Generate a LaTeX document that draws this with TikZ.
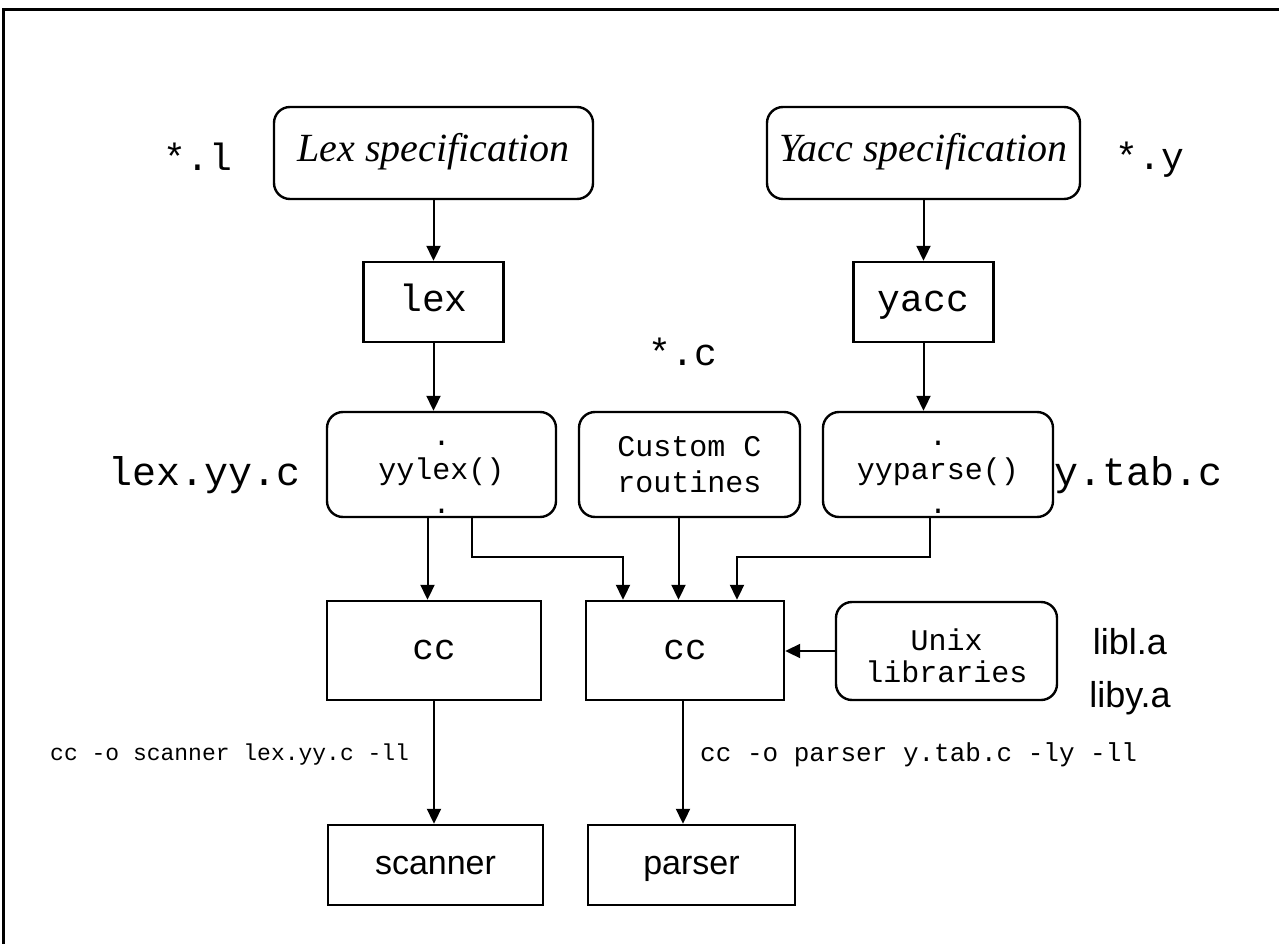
\documentclass[tikz,border=0pt]{standalone}
\usepackage{fontspec}
\setmainfont{Liberation Serif}
\setsansfont{Liberation Sans}
\setmonofont{Liberation Mono}
\usetikzlibrary{arrows.meta,positioning}

\newcommand{\fs}[1]{\fontsize{#1}{1.2\dimexpr#1pt\relax}\selectfont}

\begin{document}
\begin{tikzpicture}[
            x=1pt, y=-1pt,
            rbox/.style={draw, line width=2.4pt, rounded corners=16pt, inner sep=0pt, align=center},
            sbox/.style={draw, line width=2.4pt, inner sep=0pt, align=center},
            oneline/.style={text height=26pt, text depth=8pt},
            tag/.style={inner sep=0pt, font=\ttfamily\fs{38}},
            >={Triangle[length=15pt,width=14pt]},
            conn/.style={line width=2pt}
        ]
        \useasboundingbox (0,0) rectangle (1279,944);
        \draw[line width=3pt] (3,944) -- (3,10) -- (1279,10);

        % specifications
        \node[rbox, oneline, minimum width=319pt, minimum height=92pt, font=\itshape\fs{40}] (lexspec) at (433.5,153) {Lex specification};
        \node[rbox, oneline, minimum width=313pt, minimum height=92pt, font=\itshape\fs{40}] (yaccspec) at (923.5,153) {Yacc specification};
        \node[tag] (lsuf) at (198,157) {*.l};
        \node[tag] (ysuf) at (1150,160) {*.y};

        % generators
        \node[sbox, oneline, minimum width=140pt, minimum height=80pt, font=\ttfamily\fs{38}] (lex) at (433.5,302) {lex};
        \node[sbox, oneline, minimum width=140pt, minimum height=80pt, font=\ttfamily\fs{38}] (yacc) at (923.5,302) {yacc};

        % generated sources
        \node[tag] (csuf) at (683,352) {*.c};
        \node[rbox, minimum width=229pt, minimum height=105pt, font=\ttfamily\fs{30}] (yylex) at (441.5,464.5) {\rule{0pt}{33pt}.\\[-2pt]\strut yylex()\\[-2pt].\rule[-3pt]{0pt}{3pt}};
        \node[rbox, minimum width=221pt, minimum height=105pt, font=\ttfamily\fs{30}] (custom) at (689.5,464.5) {Custom C\\routines};
        \node[rbox, minimum width=230pt, minimum height=105pt, font=\ttfamily\fs{30}] (yyparse) at (938,464.5) {\rule{0pt}{33pt}.\\[-2pt]\strut yyparse()\\[-2pt].\rule[-3pt]{0pt}{3pt}};
        \node[tag, font=\ttfamily\fs{40}] (lexc) at (205,475) {lex.yy.c};
        \node[tag, font=\ttfamily\fs{40}] (tabc) at (1138,475) {y.tab.c};

        % compilers
        \node[sbox, oneline, minimum width=214pt, minimum height=99pt, font=\ttfamily\fs{36}] (cc1) at (434,650.5) {cc};
        \node[sbox, oneline, minimum width=198pt, minimum height=99pt, font=\ttfamily\fs{36}] (cc2) at (685,650.5) {cc};
        \node[rbox, minimum width=221pt, minimum height=98pt, font=\ttfamily\fs{30}] (unix) at (946.5,651) {\rule{0pt}{33pt}Unix\\[-4pt]libraries\rule[-3pt]{0pt}{3pt}};
        \node[inner sep=0pt, font=\sffamily\fs{36}] (libl) at (1130,642) {libl.a};
        \node[inner sep=0pt, font=\sffamily\fs{36}] (liby) at (1130,698) {liby.a};

        % results
        \node[inner sep=0pt, anchor=west, font=\ttfamily\fs{23}] (scmd) at (50,755) {cc -o scanner lex.yy.c -ll};
        \node[inner sep=0pt, anchor=west, font=\ttfamily\fs{26}] (pcmd) at (700,755) {cc -o parser y.tab.c -ly -ll};
        \node[sbox, oneline, minimum width=215pt, minimum height=80pt, font=\sffamily\fs{34}] (scanner) at (435.5,865) {scanner};
        \node[sbox, oneline, minimum width=207pt, minimum height=80pt, font=\sffamily\fs{34}] (parser) at (691.5,865) {parser};

        \draw[conn, ->] (lexspec) -- (lex);
        \draw[conn, ->] (yaccspec) -- (yacc);
        \draw[conn, ->] (lex.south) -- (lex.south |- yylex.north);
        \draw[conn, ->] (yacc.south) -- (yacc.south |- yyparse.north);
        \draw[conn, ->] ([xshift=-14pt]yylex.south) -- ([xshift=-14pt]yylex.south |- cc1.north);
        \draw[conn, ->] ([xshift=30pt]yylex.south) -- ++(0,39) -| ([xshift=-62pt]cc2.north);
        \draw[conn, ->] ([xshift=-11pt]custom.south) -- ([xshift=-11pt]custom.south |- cc2.north);
        \draw[conn, ->] ([xshift=-8pt]yyparse.south) -- ++(0,39) -| ([xshift=52pt]cc2.north);
        \draw[conn, ->] (unix.west) -- (unix.west -| cc2.east);
        \draw[conn, ->] (cc1.south) -- (cc1.south |- scanner.north);
        \draw[conn, ->] ([xshift=-2pt]cc2.south) -- ([xshift=-2pt]cc2.south |- parser.north);
    \end{tikzpicture}
\end{document}
